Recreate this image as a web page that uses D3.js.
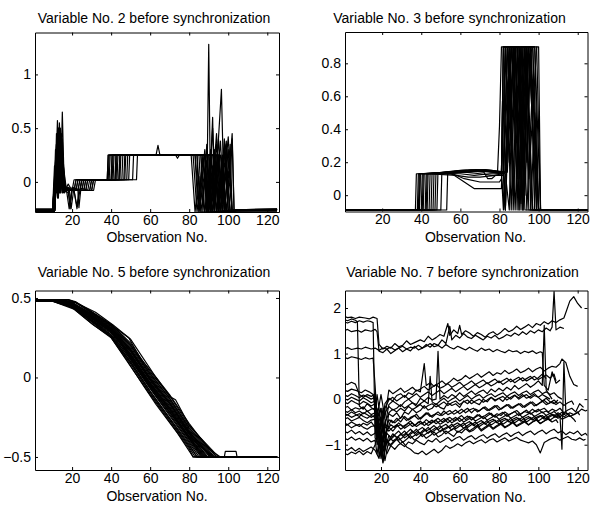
<!DOCTYPE html>
<html>
<head>
<meta charset="utf-8">
<script src="https://cdn.jsdelivr.net/npm/d3@7"></script>
<style>
  body { margin: 0; background: #fff; }
  svg text { font-family: Arial, "Liberation Sans", Helvetica, sans-serif; fill: #000; }
</style>
</head>
<body>
<div id="container"></div>
<script>
/* CONSTANTS AND GLOBALS */
const width = 590,
  height = 506;

/* DATA ([observation, value]) */
const xTicks = [20, 40, 60, 80, 100, 120];
const var2Ticks = [0, 0.5, 1];
const var3Ticks = [0, 0.2, 0.4, 0.6, 0.8];
const var5Ticks = [-0.5, 0, 0.5];
const var7Ticks = [-1, 0, 1, 2];

// variable 2 : one array per batch run
const var2Runs = [
  [[1,-0.27],[10,-0.27],[11,0.0],[12,0.35],[13,-0.05],[14,0.2],[16,-0.06],[20,-0.08],[21,0.02],[38,0.02],[38.5,0.25],[81,0.25],[83,-0.28],[85,0.05],[86,-0.28],[103,-0.27],[125,-0.26]],
  [[1,-0.27],[11,-0.27],[12.5,0.57],[13.5,-0.1],[15,0.1],[17,-0.06],[21,-0.08],[23,-0.08],[24,0.02],[38.5,0.02],[39,0.25],[82,0.25],[84,-0.28],[87,0.2],[89,-0.2],[90,1.28],[91,-0.28],[103,-0.26],[125,-0.26]],
  [[1,-0.25],[10,-0.25],[12,0.2],[13,0.45],[14,-0.1],[15,0.65],[16,-0.08],[18,-0.05],[19,-0.25],[20,-0.05],[25,-0.08],[26,0.02],[39,0.02],[39.5,0.25],[84,0.25],[85,-0.28],[88,0.1],[90,-0.28],[92,0.6],[93,-0.28],[104,-0.26],[125,-0.25]],
  [[1,-0.27],[11,-0.27],[12,0.1],[13,0.4],[14,0.0],[15,0.3],[16.5,-0.05],[18,-0.08],[21,-0.08],[22.5,-0.25],[24,-0.08],[27,-0.08],[28,0.02],[40,0.02],[40.5,0.25],[85,0.25],[86,-0.1],[88,-0.28],[91,0.3],[93,-0.2],[96.5,0.86],[98,-0.28],[104,-0.26],[125,-0.26]],
  [[1,-0.26],[10,-0.26],[11,0.15],[12,-0.1],[14,0.35],[15,-0.1],[17,-0.05],[20,-0.08],[29,-0.08],[30,0.02],[40.5,0.02],[41,0.25],[86,0.25],[88,-0.28],[90,0.0],[92,-0.28],[95,0.4],[97,-0.28],[104,-0.27],[125,-0.27]],
  [[1,-0.27],[11,-0.27],[12,0.3],[13,-0.15],[14,0.5],[15,0.0],[16,-0.1],[18,-0.02],[20,-0.08],[26,-0.08],[27,0.02],[41,0.02],[41.5,0.25],[87,0.25],[89,-0.1],[91,-0.28],[94,0.35],[96,-0.1],[98,0.4],[100,-0.28],[104,-0.26],[125,-0.26]],
  [[1,-0.27],[10.5,-0.27],[12,0.25],[13,-0.05],[14.5,0.3],[16,-0.06],[18,-0.08],[22,-0.08],[23,0.02],[42,0.02],[42.5,0.25],[88,0.25],[89,-0.28],[92,0.15],[94,-0.28],[99,0.38],[100,-0.28],[103,-0.26],[125,-0.26]],
  [[1,-0.26],[11,-0.26],[12,0.05],[13.5,0.38],[15,-0.08],[17,-0.06],[18.5,-0.25],[20,-0.06],[24,-0.08],[25,0.02],[42.5,0.02],[43,0.25],[88,0.25],[90,-0.28],[93,0.3],[95,-0.28],[97,0.2],[99,-0.28],[104,-0.26],[125,-0.26]],
  [[1,-0.27],[11,-0.27],[12.5,0.4],[13.5,0.05],[14.5,0.45],[16,-0.05],[20,-0.08],[30,-0.08],[31,0.02],[43,0.02],[43.5,0.25],[89,0.25],[90,-0.1],[92,-0.28],[95,0.25],[97,-0.2],[100,0.42],[102,-0.28],[104,-0.26],[125,-0.26]],
  [[1,-0.27],[10,-0.27],[11.5,0.2],[12.5,-0.1],[13.5,0.3],[15,-0.05],[17,-0.08],[21,-0.08],[22.5,-0.23],[23.5,-0.08],[28,-0.08],[29,0.02],[44,0.02],[44.5,0.25],[90,0.25],[91,-0.28],[94,0.1],[96,-0.28],[98,0.3],[101,-0.28],[104,-0.26],[125,-0.26]],
  [[1,-0.27],[11,-0.27],[12,0.2],[13,0.5],[14,-0.1],[15.5,0.15],[17,-0.06],[19,-0.08],[24,-0.08],[25,0.02],[44.5,0.02],[45,0.25],[91,0.25],[92,0.0],[93,-0.28],[96,0.38],[98,-0.28],[101,0.35],[102,-0.28],[104,-0.26],[125,-0.26]],
  [[1,-0.26],[11,-0.26],[12,0.1],[13,-0.1],[14,0.25],[15,-0.1],[17,-0.06],[20,-0.08],[27,-0.08],[28,0.02],[45.5,0.02],[46,0.25],[92,0.25],[94,-0.28],[97,0.15],[99,-0.28],[102,0.45],[103,-0.28],[104,-0.26],[125,-0.25]],
  [[1,-0.27],[10.5,-0.27],[12,0.35],[13,0.0],[14,0.4],[15.5,-0.06],[18,-0.08],[23,-0.08],[24,0.02],[47,0.02],[47.5,0.25],[93,0.25],[95,-0.28],[97,0.0],[99,-0.28],[103,-0.27],[125,-0.27]],
  [[1,-0.27],[11,-0.27],[12.5,0.15],[13.5,-0.05],[14.5,0.2],[16,-0.06],[18,-0.08],[22,-0.08],[23,0.02],[49,0.02],[49.5,0.25],[63,0.25],[64,0.34],[65,0.25],[94,0.25],[96,-0.28],[99,0.2],[101,-0.28],[104,-0.26],[125,-0.26]],
  [[1,-0.27],[11,-0.27],[12,0.0],[13,0.3],[14,-0.1],[15,0.2],[16.5,-0.06],[20,-0.08],[25,-0.08],[26,0.02],[51,0.02],[51.5,0.25],[73,0.25],[74,0.22],[75,0.25],[95,0.25],[97,-0.28],[100,0.3],[102,-0.28],[104,-0.26],[125,-0.26]],
  [[1,-0.26],[10,-0.26],[11.5,0.1],[12.5,-0.15],[13.5,0.2],[15,-0.1],[17,-0.06],[19,-0.08],[21,-0.08],[22,0.02],[53,0.02],[53.5,0.25],[96,0.25],[98,-0.28],[100,0.1],[102,-0.28],[104,-0.26],[125,-0.26]],
  [[1,-0.27],[11,-0.27],[12,0.2],[13.5,-0.1],[15,0.1],[16,-0.1],[18.5,-0.05],[19.5,-0.25],[21,-0.05],[23,-0.08],[30,-0.08],[31,0.02],[46.5,0.02],[47,0.25],[83,0.25],[84,-0.1],[85,-0.28],[88,0.3],[90,-0.28],[93,0.2],[95,-0.28],[103,-0.27],[125,-0.27]],
  [[1,-0.27],[11,-0.27],[12,0.45],[13,-0.05],[14,0.3],[16,-0.06],[20,-0.08],[23,-0.08],[23.5,-0.24],[24.5,-0.06],[29,-0.08],[30,0.02],[40,0.02],[40.5,0.25],[88,0.25],[89.5,-0.28],[92,0.5],[94,-0.28],[97,0.25],[99,-0.28],[104,-0.26],[125,-0.26]],
  [[1,-0.27],[11,-0.27],[12,0.15],[13,0.5],[14,0.1],[15,0.4],[16,-0.08],[18,-0.1],[19,-0.2],[20,-0.08],[26,-0.08],[27,0.02],[42,0.02],[42.5,0.25],[86,0.25],[87,-0.28],[89,0.35],[91,-0.28],[93,0.15],[95,-0.28],[98,0.3],[100,-0.28],[103,-0.26],[125,-0.26]],
  [[1,-0.27],[10.5,-0.27],[11.5,0.3],[12.5,0.0],[13.5,0.55],[14.5,-0.05],[16,-0.1],[18,-0.06],[22,-0.08],[24,-0.08],[25,0.02],[44,0.02],[44.5,0.25],[84,0.25],[86,-0.28],[89,0.2],[91,-0.28],[94,0.45],[96,-0.28],[99,0.15],[101,-0.28],[104,-0.26],[125,-0.26]],
  [[1,-0.26],[11,-0.26],[12,0.25],[13,-0.1],[14,0.35],[15.5,-0.1],[17,-0.06],[21,-0.08],[31,-0.08],[32,0.02],[48,0.02],[48.5,0.25],[90,0.25],[92,-0.28],[94,0.0],[96,-0.28],[99,0.35],[101,0.0],[102,0.4],[103,-0.28],[104,-0.26],[125,-0.26]],
  [[1,-0.27],[11,-0.27],[12.5,0.3],[13.5,-0.1],[14.5,0.4],[16,-0.06],[19,-0.08],[21,-0.08],[22,0.02],[38,0.02],[38.5,0.25],[83,0.25],[85,-0.2],[87,0.25],[89,-0.28],[91,0.1],[93,-0.28],[103,-0.27],[125,-0.26]]
];

// variable 3
const var3Runs = [
  [[1,-0.09],[37,-0.09],[37.5,0.13],[55,0.13],[65,0.15],[78,0.14],[79,0.14],[80,0.42],[81,0.9],[83,0.9],[86,-0.09],[88,0.9],[90,0.9],[93,-0.09],[125,-0.09]],
  [[1,-0.09],[38,-0.09],[38.5,0.13],[56,0.14],[66,0.15],[80,0.14],[81,0.14],[82,0.9],[84,0.9],[87,0.0],[89,0.9],[92,0.2],[94,0.9],[96,-0.09],[125,-0.09]],
  [[1,-0.09],[38.5,-0.09],[39,0.13],[55,0.13],[57,0.12],[62,0.08],[67,0.04],[80,0.04],[81,0.04],[83,0.9],[85,0.9],[88,-0.09],[91,0.9],[93,0.9],[97,-0.09],[125,-0.09]],
  [[1,-0.09],[39,-0.09],[39.5,0.13],[57,0.14],[68,0.155],[81,0.14],[82,0.9],[86,0.9],[89,0.1],[92,0.9],[95,0.9],[99,-0.09],[125,-0.09]],
  [[1,-0.09],[40,-0.09],[40.5,0.13],[56,0.13],[62,0.1],[70,0.08],[80,0.08],[81,0.1],[83,-0.09],[85,0.9],[88,0.9],[91,-0.05],[94,0.9],[96,0.9],[100,-0.09],[125,-0.09]],
  [[1,-0.09],[40.5,-0.09],[41,0.13],[58,0.145],[70,0.15],[81,0.14],[83,0.9],[84,0.9],[86,0.3],[88,0.9],[91,0.9],[94,-0.09],[97,0.7],[99,-0.09],[125,-0.09]],
  [[1,-0.09],[41,-0.09],[41.5,0.13],[58,0.14],[66,0.15],[79,0.14],[82,0.13],[84,0.9],[87,0.9],[90,-0.09],[92,0.6],[95,0.9],[98,0.9],[101,-0.09],[125,-0.09]],
  [[1,-0.09],[42,-0.09],[42.5,0.13],[60,0.14],[72,0.15],[80,0.13],[81,0.13],[82,-0.09],[84,0.5],[86,0.9],[89,0.9],[92,-0.09],[95,0.9],[97,0.4],[100,-0.09],[125,-0.09]],
  [[1,-0.09],[42.5,-0.09],[43,0.13],[58,0.12],[64,0.11],[70,0.11],[78,0.12],[82,0.12],[85,0.9],[88,0.9],[90,-0.09],[93,0.9],[96,0.9],[98,-0.09],[125,-0.09]],
  [[1,-0.09],[43,-0.09],[43.5,0.13],[60,0.15],[73,0.155],[82,0.14],[83,0.14],[86,0.9],[89,0.5],[91,0.9],[94,0.9],[97,-0.09],[125,-0.09]],
  [[1,-0.09],[44,-0.09],[44.5,0.13],[61,0.15],[75,0.15],[82,0.13],[83,-0.09],[86,0.9],[88,0.9],[91,-0.09],[93,0.9],[95,0.1],[99,0.9],[100,0.9],[101,-0.09],[125,-0.09]],
  [[1,-0.09],[45,-0.09],[45.5,0.13],[60,0.14],[70,0.145],[82,0.14],[84,0.9],[86,0.6],[88,0.9],[90,0.9],[93,0.0],[96,0.9],[98,-0.09],[125,-0.09]],
  [[1,-0.09],[46,-0.09],[46.5,0.13],[62,0.15],[74,0.15],[83,0.13],[85,-0.09],[87,0.9],[90,0.9],[92,-0.09],[95,0.9],[97,0.9],[100,-0.09],[125,-0.09]],
  [[1,-0.09],[47,-0.09],[47.5,0.13],[62,0.14],[70,0.13],[76,0.12],[82,0.12],[83,0.9],[85,0.2],[87,0.9],[89,0.9],[91,0.3],[93,0.9],[95,-0.09],[125,-0.09]],
  [[1,-0.09],[48,-0.09],[48.5,0.13],[63,0.15],[76,0.15],[83,0.14],[86,0.9],[88,0.9],[90,0.1],[92,0.9],[94,0.9],[96,-0.09],[98,0.5],[100,-0.09],[125,-0.09]],
  [[1,-0.09],[50,-0.09],[50.5,0.13],[63,0.14],[72,0.15],[82,0.14],[84,0.14],[87,0.9],[89,0.9],[92,-0.09],[94,0.8],[97,0.9],[99,0.9],[101,-0.09],[125,-0.09]],
  [[1,-0.09],[53,-0.09],[53.5,0.13],[60,0.13],[67,0.12],[75,0.13],[82,0.13],[83,-0.09],[85,0.9],[87,0.9],[89,-0.09],[91,0.9],[93,0.4],[95,0.9],[97,0.9],[99,-0.09],[125,-0.09]],
  [[1,-0.09],[39,-0.09],[39.5,0.13],[55,0.14],[65,0.15],[72,0.14],[74,0.1],[76,0.1],[78,0.12],[81,0.13],[82,0.9],[85,0.9],[87,-0.09],[90,0.9],[92,0.9],[94,0.2],[96,0.9],[98,0.9],[100,-0.09],[125,-0.09]]
];

// variable 5
const var5Runs = [
  [[1,0.48],[10,0.48],[20,0.44],[30,0.34],[40,0.25],[50,0.07],[60,-0.11],[70,-0.28],[80,-0.45],[82,-0.5],[125,-0.5]],
  [[1,0.48],[11,0.48],[20,0.445],[30,0.35],[40,0.255],[50,0.085],[60,-0.1],[70,-0.27],[80,-0.44],[83,-0.5],[125,-0.5]],
  [[1,0.49],[12,0.49],[20,0.45],[30,0.355],[40,0.265],[50,0.1],[60,-0.085],[70,-0.255],[80,-0.42],[84,-0.5],[125,-0.5]],
  [[1,0.48],[10,0.48],[20,0.44],[30,0.36],[40,0.28],[50,0.11],[60,-0.07],[70,-0.24],[80,-0.41],[85,-0.5],[125,-0.5]],
  [[1,0.48],[13,0.48],[20,0.455],[30,0.36],[40,0.27],[50,0.115],[60,-0.065],[70,-0.23],[80,-0.4],[86,-0.5],[125,-0.5]],
  [[1,0.49],[12,0.49],[20,0.455],[30,0.37],[40,0.29],[50,0.13],[60,-0.05],[70,-0.22],[80,-0.39],[86.5,-0.5],[125,-0.5]],
  [[1,0.48],[14,0.48],[20,0.46],[30,0.375],[40,0.285],[50,0.135],[60,-0.045],[70,-0.205],[80,-0.38],[87.5,-0.5],[125,-0.5]],
  [[1,0.48],[12,0.48],[20,0.458],[30,0.38],[40,0.3],[50,0.14],[60,-0.035],[70,-0.195],[80,-0.375],[88,-0.5],[125,-0.5]],
  [[1,0.49],[15,0.49],[20,0.465],[30,0.38],[40,0.295],[50,0.15],[60,-0.03],[70,-0.19],[80,-0.36],[89,-0.5],[125,-0.5]],
  [[1,0.48],[13,0.48],[20,0.462],[30,0.385],[40,0.3],[50,0.16],[60,-0.02],[70,-0.18],[80,-0.355],[89.5,-0.5],[125,-0.5]],
  [[1,0.48],[16,0.48],[20,0.468],[30,0.39],[40,0.305],[50,0.165],[60,-0.015],[70,-0.17],[80,-0.35],[90.5,-0.5],[125,-0.5]],
  [[1,0.49],[14,0.49],[20,0.467],[30,0.39],[40,0.31],[50,0.175],[60,-0.005],[70,-0.165],[80,-0.34],[91,-0.5],[125,-0.5]],
  [[1,0.48],[17,0.48],[20,0.47],[30,0.4],[40,0.315],[50,0.18],[60,0.0],[70,-0.155],[80,-0.34],[92,-0.5],[125,-0.5]],
  [[1,0.48],[15,0.48],[20,0.47],[30,0.4],[40,0.32],[50,0.19],[60,0.01],[70,-0.145],[80,-0.33],[92.5,-0.5],[125,-0.5]],
  [[1,0.49],[18,0.49],[22,0.47],[30,0.405],[40,0.325],[50,0.2],[60,0.02],[70,-0.135],[80,-0.32],[93,-0.5],[125,-0.5]],
  [[1,0.48],[16,0.48],[22,0.47],[30,0.41],[40,0.33],[49,0.25],[55,0.12],[63,0.0],[70,-0.12],[73,-0.14],[80,-0.3],[94,-0.5],[125,-0.5]],
  [[1,0.49],[18,0.49],[22,0.475],[30,0.415],[40,0.335],[50,0.215],[60,0.035],[70,-0.115],[80,-0.305],[95,-0.5],[125,-0.5]],
  [[1,0.49],[12,0.49],[22,0.47],[32,0.41],[41,0.33],[50,0.24],[63,0.0],[70,-0.11],[80,-0.29],[90,-0.45],[96,-0.5],[125,-0.5]],
  [[1,0.48],[11,0.48],[20,0.45],[30,0.37],[40,0.3],[50,0.12],[60,-0.06],[70,-0.22],[80,-0.37],[92,-0.5],[98,-0.5],[98.5,-0.465],[104,-0.465],[104.5,-0.5],[125,-0.5]],
  [[1,0.48],[10,0.48],[21,0.43],[31,0.33],[39.5,0.26],[48,0.11],[57,-0.06],[63,-0.17],[74,-0.35],[82,-0.5],[125,-0.5]],
  [[1,0.48],[13,0.48],[20,0.452],[30,0.362],[40,0.29],[50,0.125],[60,-0.055],[70,-0.215],[80,-0.385],[87,-0.5],[125,-0.5]],
  [[1,0.49],[16,0.49],[21,0.465],[30,0.395],[40,0.31],[50,0.17],[60,-0.01],[70,-0.16],[80,-0.345],[91.5,-0.5],[125,-0.5]],
  [[1,0.48],[11,0.48],[20,0.448],[30,0.352],[40,0.26],[50,0.095],[60,-0.09],[70,-0.26],[80,-0.43],[84,-0.5],[125,-0.5]],
  [[1,0.49],[17,0.49],[22,0.472],[30,0.41],[40,0.328],[50,0.205],[60,0.025],[70,-0.13],[80,-0.315],[94,-0.5],[125,-0.5]],
  [[1,0.48],[14,0.48],[20,0.46],[30,0.378],[40,0.298],[50,0.145],[60,-0.04],[70,-0.2],[80,-0.37],[88.5,-0.5],[125,-0.5]]
];

// variable 7
const var7Runs = [
  [[1,1.82],[3,1.79],[5,1.8],[7,1.77],[9,1.8],[12,1.78],[14,1.76],[16,1.8],[18,1.77],[19,1.2],[21,1.1],[23,1.16],[25,1.12],[27,1.22],[29,1.15],[31,1.18],[33,1.28],[35,1.2],[37,1.24],[40,1.3],[42,1.26],[44,1.38],[46,1.3],[48,1.35],[50,1.42],[52,1.38],[54,1.66],[55,1.4],[57,1.52],[59,1.44],[60,1.62],[61,1.42],[63,1.5],[65,1.45],[67,1.38],[69,1.46],[71,1.42],[73,1.36],[75,1.44],[77,1.48],[79,1.41],[81,1.47],[83,1.55],[85,1.48],[87,1.52],[89,1.6],[91,1.53],[93,1.58],[95,1.64],[97,1.57],[99,1.66],[101,1.62],[103,1.7],[105,1.65],[107,1.72],[109,1.68],[111,1.74],[113,1.78],[114,1.9],[116,2.15],[118,2.25],[120,2.1],[122,2.0]],
  [[1,1.5],[3,1.53],[5,1.48],[8,1.51],[10,1.47],[12,1.52],[15,1.49],[17,1.53],[18,1.48],[19,1.05],[21,1.02],[23,1.1],[25,1.0],[27,1.06],[29,1.12],[31,1.04],[33,1.1],[35,1.06],[37,1.16],[39,1.08],[41,1.12],[43,1.2],[45,1.14],[47,1.22],[49,1.18],[51,1.3],[53,1.22],[55,1.6],[56,1.3],[58,1.4],[60,1.34],[62,1.44],[64,1.36],[66,1.33],[68,1.4],[70,1.35],[72,1.3],[74,1.38],[76,1.34],[78,1.4],[80,1.32],[82,1.36],[84,1.42],[86,1.38],[88,1.45],[90,1.4],[92,1.48],[94,1.42],[96,1.5],[98,1.45],[100,1.52],[102,1.48],[104,1.56],[106,1.5],[107,1.58],[108,2.36],[109,1.52],[111,1.58],[113,1.55]],
  [[1,1.1],[3,1.13],[5,1.09],[8,1.12],[10,1.1],[12,1.14],[15,1.1],[17,1.12],[19,1.07],[21,1.12],[23,1.1],[25,1.14],[27,1.08],[29,1.12],[31,1.16],[33,1.1],[35,1.14],[37,1.12],[39,1.18],[41,1.12],[43,1.16],[45,1.22],[47,1.15],[49,1.18],[51,1.12],[53,1.2],[55,1.14],[57,1.1],[59,1.16],[61,1.12],[63,1.08],[65,1.14],[67,1.09],[69,1.05],[71,1.12],[73,1.07],[75,1.1],[77,1.04],[79,1.09],[81,1.05],[83,1.02],[85,1.08],[87,1.04],[89,1.06],[91,1.0],[93,1.05],[95,1.02],[97,1.06],[99,1.0],[101,1.04],[102,1.02],[103,0.3],[105,0.2],[107,0.6],[109,0.35],[111,0.42]],
  [[1,1.75],[3,1.72],[5,1.76],[7,1.73],[8,1.7],[9,-0.15],[11,-0.22],[13,-0.1],[15,-0.18],[17,-0.25],[19,-0.6],[20,-1.2],[22,-0.5],[24,-0.32],[26,-0.38],[28,-0.3],[30,-0.42],[32,-0.28],[34,-0.33],[36,-0.22],[38,-0.3],[40,-0.25],[42,-0.14],[44,-0.24],[46,-0.2],[48,-0.1],[50,-0.18],[52,-0.22],[54,-0.08],[56,-0.14],[58,-0.1],[60,-0.18],[62,-0.04],[64,-0.1],[66,-0.02],[68,-0.08],[70,-0.12],[72,0.0],[74,-0.06],[76,0.04],[78,-0.02],[80,0.02],[82,-0.05],[84,0.06],[86,0.0],[88,0.08],[90,0.03],[92,0.1],[94,0.02],[96,0.06],[98,0.12],[100,0.04],[102,0.1],[104,0.05],[106,0.0]],
  [[1,1.7],[3,1.67],[5,1.71],[7,1.68],[9,1.72],[11,1.69],[13,1.72],[15,1.7],[16,1.68],[17,-0.85],[19,-1.0],[21,-1.38],[23,-0.9],[25,-1.02],[27,-0.92],[29,-0.84],[31,-0.95],[33,-0.88],[35,-0.8],[37,-0.9],[39,-0.84],[41,-0.76],[43,-0.86],[45,-0.8],[47,-0.72],[49,-0.83],[51,-0.78],[53,-0.7],[55,-0.76],[57,-0.82],[59,-0.7],[61,-0.74],[63,-0.65],[65,-0.72],[67,-0.68],[69,-0.6],[71,-0.7],[73,-0.64],[75,-0.58],[77,-0.66],[79,-0.6],[81,-0.55],[83,-0.63],[85,-0.58],[87,-0.52],[89,-0.6],[91,-0.55],[93,-0.5],[95,-0.57],[97,-0.5],[99,-0.46],[101,-0.54],[103,-0.48],[105,-0.44],[107,-0.5]],
  [[1,0.92],[3,0.89],[5,0.93],[8,0.9],[10,0.87],[12,0.91],[14,0.88],[16,0.9],[17,0.3],[18,-0.4],[20,-0.2],[22,-0.8],[24,-0.45],[26,-0.52],[28,-0.42],[30,-0.5],[32,-0.38],[34,-0.46],[36,-0.4],[38,-0.33],[40,-0.44],[42,-0.36],[44,-0.3],[46,-0.4],[48,-0.32],[50,-0.36],[52,-0.26],[54,-0.34],[56,-0.3],[58,-0.24],[60,-0.32],[62,-0.26],[64,-0.2],[66,-0.3],[68,-0.22],[70,-0.26],[72,-0.18],[74,-0.25],[76,-0.2],[78,-0.14],[80,-0.24],[82,-0.18],[84,-0.12],[86,-0.2],[88,-0.15],[90,-0.1],[92,-0.18],[94,-0.12],[96,-0.06],[98,-0.15],[100,-0.1],[102,-0.04],[104,-0.12],[106,-0.08],[108,-0.02],[110,-0.1]],
  [[1,0.35],[3,0.32],[5,0.37],[7,0.33],[9,0.1],[11,0.04],[13,0.1],[15,0.06],[17,0.12],[18,-0.3],[20,-0.9],[22,-0.1],[24,0.02],[26,-0.04],[28,0.08],[30,0.12],[32,0.04],[34,0.14],[36,0.1],[38,0.2],[40,0.16],[42,0.78],[43,0.3],[45,0.36],[47,0.28],[49,0.34],[51,0.4],[53,0.32],[55,0.38],[57,0.46],[59,0.4],[61,0.44],[63,0.52],[65,0.45],[67,0.5],[69,0.56],[71,0.48],[73,0.54],[75,0.6],[77,0.52],[79,0.58],[81,0.55],[83,0.63],[85,0.56],[87,0.6],[89,0.66],[91,0.58],[93,0.62],[95,0.68],[97,0.6],[99,0.66],[101,0.7],[103,0.62],[105,0.68],[107,0.72],[109,0.7],[111,0.78],[112,0.88],[114,0.8],[116,0.5],[118,0.32],[120,0.28]],
  [[1,0.2],[3,0.17],[5,0.22],[8,0.18],[10,0.14],[12,0.2],[14,0.16],[16,0.1],[18,-0.5],[20,-1.3],[22,-0.6],[24,-0.12],[26,-0.04],[28,-0.1],[30,-0.16],[32,-0.06],[34,0.0],[36,-0.08],[38,-0.12],[40,0.02],[42,-0.04],[44,0.04],[46,-0.02],[48,0.0],[49,1.05],[50,0.0],[52,0.08],[54,0.02],[56,0.1],[58,0.05],[60,0.14],[62,0.06],[64,0.12],[66,0.18],[68,0.1],[70,0.16],[72,0.2],[74,0.12],[76,0.22],[78,0.16],[80,0.24],[82,0.18],[84,0.26],[86,0.2],[88,0.3],[90,0.22],[92,0.28],[94,0.34],[96,0.26],[98,0.32],[100,0.4],[102,0.3],[103,1.62],[104,0.2],[107,0.0]],
  [[1,-0.05],[3,-0.1],[5,-0.03],[7,-0.08],[9,-0.12],[11,-0.05],[13,-0.09],[15,-0.15],[17,-0.1],[18,-0.3],[19,-0.9],[21,-0.2],[23,-0.7],[25,-0.56],[27,-0.62],[29,-0.52],[31,-0.6],[33,-0.55],[35,-0.48],[37,-0.58],[39,-0.5],[41,-0.55],[43,-0.45],[45,-0.52],[47,-0.48],[49,-0.42],[51,-0.5],[53,-0.44],[55,-0.4],[57,-0.47],[59,-0.42],[61,-0.36],[63,-0.45],[65,-0.38],[67,-0.42],[69,-0.34],[71,-0.4],[73,-0.36],[75,-0.3],[77,-0.38],[79,-0.32],[81,-0.36],[83,-0.28],[85,-0.34],[87,-0.3],[89,-0.25],[91,-0.33],[93,-0.27],[95,-0.3],[97,-0.22],[99,-0.28],[101,-0.24],[103,-0.2],[105,-0.28],[107,-0.22],[109,-0.26],[111,-0.2],[113,-0.3],[115,-0.24],[117,-0.2],[119,-0.28],[121,-0.1],[123,-0.18]],
  [[1,-0.2],[3,-0.16],[5,-0.24],[7,-0.19],[9,-0.22],[11,-0.17],[13,-0.27],[15,-0.22],[17,-0.2],[18,-0.8],[20,-0.4],[22,-1.1],[24,-0.8],[26,-0.92],[28,-0.86],[30,-0.76],[32,-0.85],[34,-0.78],[36,-0.7],[38,-0.8],[40,-0.74],[42,-0.66],[44,-0.75],[46,-0.68],[48,-0.62],[50,-0.72],[52,-0.65],[54,-0.6],[56,-0.68],[58,-0.6],[60,-0.55],[62,-0.64],[64,-0.58],[66,-0.52],[68,-0.6],[70,-0.55],[72,-0.5],[74,-0.58],[76,-0.5],[78,-0.46],[80,-0.55],[82,-0.48],[84,-0.44],[86,-0.52],[88,-0.46],[90,-0.42],[92,-0.5],[94,-0.44],[96,-0.4],[98,-0.47],[100,-0.4],[102,-0.36],[104,-0.44],[106,-0.38],[108,-0.34],[110,-0.42],[112,-0.36],[114,-0.4]],
  [[1,-0.3],[3,-0.35],[5,-0.28],[7,-0.33],[9,-0.38],[11,-0.3],[13,-0.34],[15,-0.4],[17,-0.35],[18,-0.2],[20,-0.6],[22,-0.3],[24,-0.16],[26,-0.24],[28,-0.2],[30,-0.12],[32,-0.2],[34,-0.14],[36,-0.08],[38,-0.16],[40,-0.1],[42,-0.04],[44,-0.1],[45,0.5],[46,-0.06],[48,-0.12],[50,-0.04],[52,0.02],[54,-0.06],[56,0.0],[58,0.04],[60,-0.04],[62,0.02],[64,0.08],[66,0.0],[68,0.06],[70,0.1],[72,0.02],[74,0.08],[76,0.12],[78,0.05],[80,0.1],[82,0.14],[84,0.06],[86,0.12],[88,0.16],[90,0.08],[92,0.14],[94,0.18],[96,0.1],[98,0.16],[100,0.2],[102,0.12],[104,0.16],[106,0.1],[108,0.14],[110,0.05],[112,0.0]],
  [[1,-0.45],[3,-0.41],[5,-0.48],[7,-0.44],[9,-0.4],[11,-0.47],[13,-0.52],[15,-0.46],[17,-0.44],[18,-0.9],[20,-0.5],[21,-1.4],[23,-0.7],[25,-0.46],[27,-0.52],[29,-0.44],[31,-0.38],[33,-0.47],[35,-0.4],[37,-0.36],[39,-0.44],[41,-0.38],[43,-0.3],[45,-0.38],[47,-0.34],[49,-0.28],[51,-0.36],[53,-0.3],[55,-0.25],[57,-0.33],[59,-0.28],[61,-0.22],[63,-0.3],[65,-0.24],[67,-0.2],[69,-0.28],[71,-0.22],[73,-0.17],[75,-0.25],[77,-0.2],[79,-0.14],[81,-0.22],[83,-0.16],[85,-0.12],[87,-0.2],[89,-0.14],[91,-0.1],[93,-0.18],[95,-0.12],[97,-0.06],[99,-0.14],[101,-0.08],[103,-0.03],[105,-0.1],[107,-0.05],[109,-0.12],[111,-0.06],[113,-0.14],[115,-0.08],[117,-0.04],[118,-0.12]],
  [[1,-0.6],[3,-0.56],[5,-0.63],[7,-0.58],[9,-0.55],[11,-0.62],[13,-0.66],[15,-0.6],[17,-0.58],[18,-0.3],[20,-1.0],[22,-0.8],[24,-1.02],[26,-0.95],[28,-0.88],[30,-0.98],[32,-1.04],[34,-0.94],[36,-0.98],[38,-0.9],[40,-0.96],[42,-1.0],[44,-0.9],[46,-0.94],[48,-0.86],[50,-0.95],[52,-0.9],[54,-0.84],[56,-0.92],[58,-0.86],[60,-0.82],[62,-0.9],[64,-0.84],[66,-0.8],[68,-0.88],[70,-0.82],[72,-0.78],[74,-0.86],[76,-0.8],[78,-0.76],[80,-0.84],[82,-0.78],[84,-0.74],[86,-0.82],[88,-0.76],[90,-0.72],[92,-0.8],[94,-0.74],[96,-0.7],[98,-0.78],[100,-0.72],[102,-0.68],[104,-0.76],[106,-0.7],[108,-0.66],[110,-0.74],[112,-0.7],[114,-0.78],[116,-0.72],[118,-0.76],[120,-0.7],[122,-0.8],[124,-0.75],[125,-0.8]],
  [[1,-1.08],[3,-1.12],[5,-1.06],[7,-1.14],[9,-1.08],[11,-1.15],[13,-1.1],[15,-1.05],[17,-1.12],[19,-1.3],[21,-0.8],[23,-1.2],[25,-1.02],[27,-1.1],[29,-1.0],[31,-0.94],[33,-1.05],[35,-1.1],[37,-1.18],[39,-1.2],[41,-1.14],[43,-1.22],[45,-1.16],[47,-1.1],[49,-1.18],[51,-1.12],[53,-1.02],[55,-1.08],[57,-1.04],[59,-0.98],[61,-1.03],[63,-0.96],[65,-0.92],[67,-0.98],[69,-0.93],[71,-0.89],[73,-0.96],[75,-0.9],[77,-0.87],[79,-0.94],[81,-0.89],[83,-0.85],[85,-0.92],[87,-0.88],[89,-0.84],[91,-0.9],[93,-0.93],[95,-0.96],[97,-0.92],[99,-1.0],[101,-1.18],[103,-0.95],[105,-0.9],[107,-0.86],[109,-0.84],[111,-0.9],[113,-0.86],[115,-0.82],[117,-0.88],[119,-0.9],[121,-0.85],[123,-0.9],[124,-0.88]],
  [[1,-1.18],[3,-1.22],[5,-1.16],[7,-1.2],[9,-1.14],[11,-1.22],[13,-1.15],[15,-1.2],[17,-1.0],[19,-0.6],[21,-1.1],[23,-0.75],[25,-0.84],[27,-0.78],[29,-0.7],[31,-0.8],[33,-0.74],[35,-0.66],[37,-0.75],[39,-0.68],[41,-0.62],[43,-0.7],[45,-0.65],[47,-0.58],[49,-0.67],[51,-0.6],[53,-0.55],[55,-0.63],[57,-0.57],[59,-0.52],[61,-0.6],[63,-0.54],[65,-0.49],[67,-0.58],[69,-0.52],[71,-0.47],[73,-0.55],[75,-0.48],[77,-0.44],[79,-0.52],[81,-0.46],[83,-0.42],[85,-0.5],[87,-0.44],[89,-0.4],[91,-0.48],[93,-0.42],[95,-0.38],[97,-0.46],[99,-0.4],[101,-0.36],[103,-0.44],[105,-0.38],[107,-0.33],[109,-0.4],[111,-0.36],[112,-1.1],[113,0.82],[114,-0.3],[116,-0.38],[118,-0.34],[120,-0.3],[122,-0.22],[124,-0.26],[125,-0.24]],
  [[1,0.02],[3,-0.02],[5,0.04],[7,0.0],[9,-0.04],[11,0.03],[13,-0.02],[15,-0.08],[17,-0.04],[18,-0.6],[20,-0.2],[22,-0.9],[24,-0.3],[26,-0.22],[28,-0.28],[30,-0.2],[32,-0.26],[34,-0.16],[36,-0.23],[38,-0.18],[40,-0.12],[42,-0.2],[44,-0.14],[46,-0.1],[48,-0.17],[50,-0.12],[52,-0.06],[54,-0.14],[56,-0.08],[58,-0.04],[60,-0.12],[62,-0.06],[64,-0.02],[66,-0.1],[68,-0.04],[70,0.0],[72,-0.07],[74,-0.02],[76,0.04],[78,-0.04],[80,0.02],[82,0.06],[84,-0.02],[86,0.04],[88,0.09],[90,0.0],[92,0.06],[94,0.1],[96,0.02],[98,0.08],[100,0.04],[102,-0.04],[104,0.02],[106,-0.06],[108,-0.1],[110,-0.02]],
  [[1,-0.25],[3,-0.29],[5,-0.23],[7,-0.3],[9,-0.26],[11,-0.32],[13,-0.26],[15,-0.34],[17,-0.3],[18,0.1],[20,-0.5],[22,-0.2],[24,-0.02],[26,0.04],[28,-0.04],[30,0.02],[32,0.08],[34,0.0],[36,0.06],[38,0.12],[40,0.04],[42,0.1],[44,0.16],[46,0.08],[48,0.14],[50,0.2],[52,0.12],[54,0.18],[56,0.24],[58,0.16],[60,0.22],[62,0.28],[64,0.2],[66,0.26],[68,0.32],[70,0.25],[72,0.3],[74,0.36],[76,0.29],[78,0.34],[80,0.4],[82,0.32],[84,0.38],[86,0.44],[88,0.36],[90,0.42],[92,0.47],[94,0.4],[96,0.45],[98,0.5],[100,0.43],[102,0.48],[104,0.53],[106,0.46],[108,0.55],[109,0.4]],
  [[1,-0.7],[3,-0.74],[5,-0.68],[7,-0.76],[9,-0.71],[11,-0.78],[13,-0.72],[15,-0.8],[17,-0.75],[18,-0.5],[20,-1.2],[22,-0.6],[24,-0.7],[26,-0.62],[28,-0.56],[30,-0.66],[32,-0.6],[34,-0.52],[36,-0.6],[38,-0.55],[40,-0.48],[42,-0.58],[44,-0.52],[46,-0.46],[48,-0.54],[50,-0.48],[52,-0.42],[54,-0.52],[56,-0.45],[58,-0.4],[60,-0.49],[62,-0.43],[64,-0.37],[66,-0.46],[68,-0.4],[70,-0.34],[72,-0.43],[74,-0.37],[76,-0.31],[78,-0.4],[80,-0.34],[82,-0.29],[84,-0.38],[86,-0.32],[88,-0.27],[90,-0.36],[92,-0.3],[94,-0.24],[96,-0.33],[98,-0.27],[100,-0.22],[102,-0.3],[104,-0.26],[106,-0.32],[108,-0.27],[110,-0.35],[112,-0.29],[114,-0.36],[116,-0.3],[118,-0.34],[120,-0.28],[121,-0.35]],
  [[1,0.1],[3,0.06],[5,0.12],[7,0.08],[9,0.03],[11,0.09],[13,0.05],[15,0.0],[17,0.04],[18,-0.4],[20,0.1],[22,-0.4],[24,0.2],[26,0.12],[28,0.18],[30,0.24],[32,0.15],[34,0.2],[36,0.26],[38,0.18],[40,0.22],[42,0.28],[44,0.2],[46,0.26],[48,0.32],[50,0.24],[52,0.28],[54,0.34],[56,0.26],[58,0.31],[60,0.37],[62,0.29],[64,0.34],[66,0.4],[68,0.32],[70,0.37],[72,0.42],[74,0.34],[76,0.39],[78,0.44],[80,0.36],[82,0.41],[84,0.46],[86,0.38],[88,0.43],[90,0.48],[92,0.4],[94,0.45],[96,0.5],[98,0.42],[100,0.47],[102,0.55],[104,0.45]],
  [[1,-0.85],[3,-0.89],[5,-0.83],[7,-0.9],[9,-0.86],[11,-0.92],[13,-0.86],[15,-0.94],[17,-0.9],[18,-1.2],[20,-0.7],[22,-1.35],[24,-0.9],[26,-0.76],[28,-0.84],[30,-0.78],[32,-0.7],[34,-0.8],[36,-0.74],[38,-0.66],[40,-0.76],[42,-0.7],[44,-0.62],[46,-0.72],[48,-0.66],[50,-0.58],[52,-0.68],[54,-0.62],[56,-0.55],[58,-0.65],[60,-0.59],[62,-0.52],[64,-0.62],[66,-0.56],[68,-0.5],[70,-0.6],[72,-0.54],[74,-0.47],[76,-0.57],[78,-0.51],[80,-0.45],[82,-0.55],[84,-0.49],[86,-0.42],[88,-0.52],[90,-0.46],[92,-0.4],[94,-0.5],[96,-0.44],[98,-0.38],[100,-0.48],[102,-0.42],[104,-0.36],[106,-0.46],[108,-0.4],[110,-0.35],[112,-0.44],[114,-0.4],[116,-0.36],[118,-0.44],[119,-0.5]],
  [[1,-0.52],[3,-0.56],[5,-0.5],[7,-0.55],[9,-0.6],[11,-0.53],[13,-0.57],[15,-0.5],[17,-0.62],[18,-1.0],[20,-0.8],[22,-0.55],[24,-0.62],[26,-0.7],[28,-0.6],[30,-0.56],[32,-0.64],[34,-0.58],[36,-0.52],[38,-0.6],[40,-0.54],[42,-0.5],[44,-0.58],[46,-0.52],[48,-0.47],[50,-0.55],[52,-0.5],[54,-0.44],[56,-0.52],[58,-0.47],[60,-0.42],[62,-0.5],[64,-0.45],[66,-0.4],[68,-0.48],[70,-0.43],[72,-0.38],[74,-0.46],[76,-0.41],[78,-0.36],[80,-0.44],[82,-0.39],[84,-0.34],[86,-0.42],[88,-0.37],[90,-0.32],[92,-0.4],[94,-0.35],[96,-0.3],[98,-0.38],[100,-0.33],[102,-0.28],[104,-0.36],[106,-0.31],[108,-0.38],[110,-0.3],[112,-0.36],[114,-0.3],[116,-0.34]],
  [[1,-0.38],[3,-0.34],[5,-0.4],[7,-0.36],[9,-0.32],[11,-0.38],[13,-0.42],[15,-0.36],[17,-0.4],[18,-0.7],[19,-1.25],[21,-0.9],[23,-0.95],[25,-0.88],[27,-0.8],[29,-0.9],[31,-0.84],[33,-0.76],[35,-0.86],[37,-0.8],[39,-0.72],[41,-0.82],[43,-0.76],[45,-0.7],[47,-0.79],[49,-0.73],[51,-0.67],[53,-0.76],[55,-0.7],[57,-0.64],[59,-0.73],[61,-0.67],[63,-0.61],[65,-0.7],[67,-0.64],[69,-0.58],[71,-0.67],[73,-0.61],[75,-0.56],[77,-0.64],[79,-0.58],[81,-0.53],[83,-0.61],[85,-0.56],[87,-0.5],[89,-0.58],[91,-0.53],[93,-0.48],[95,-0.56],[97,-0.5],[99,-0.45],[101,-0.53],[103,-0.48],[105,-0.42],[107,-0.5],[109,-0.45],[110,-0.52]]
];

/* LAYOUT */
const panels = [
  { title: "Variable No. 2 before synchronization", runs: var2Runs, yTicks: var2Ticks,
    xDomain: [1, 126], yDomain: [-0.28, 1.39],
    left: 35, right: 279, top: 32.5, bottom: 212, titleX: 154, titleY: 22.5, labelX: 157, labelY: 241.5 },
  { title: "Variable No. 3 before synchronization", runs: var3Runs, yTicks: var3Ticks,
    xDomain: [1, 125], yDomain: [-0.099, 0.99],
    left: 345, right: 587.5, top: 32, bottom: 211.5, titleX: 449.5, titleY: 22.5, labelX: 475.5, labelY: 241.5 },
  { title: "Variable No. 5 before synchronization", runs: var5Runs, yTicks: var5Ticks,
    xDomain: [1, 126], yDomain: [-0.582, 0.547],
    left: 35, right: 279, top: 290.5, bottom: 470, titleX: 154, titleY: 276.5, labelX: 157, labelY: 501 },
  { title: "Variable No. 7 before synchronization", runs: var7Runs, yTicks: var7Ticks,
    xDomain: [1.7, 125], yDomain: [-1.555, 2.384],
    left: 345, right: 587.5, top: 290.5, bottom: 470, titleX: 462.5, titleY: 277, labelX: 475.5, labelY: 501.5 }
];

const fontFamily = 'Arial, "Liberation Sans", Helvetica, sans-serif';
const fontSize = 14;

// + CREATE SVG ELEMENT
const svg = d3.select("#container")
  .append("svg")
  .attr("width", width)
  .attr("height", height);

panels.forEach((p, i) => drawPanel(p, i));

function drawPanel(p, i) {
  // + SCALES
  const xScale = d3.scaleLinear().domain(p.xDomain).range([p.left, p.right]);
  const yScale = d3.scaleLinear().domain(p.yDomain).range([p.bottom, p.top]);

  const g = svg.append("g").attr("class", "panel");

  g.append("clipPath")
    .attr("id", "clip" + i)
    .append("rect")
    .attr("x", p.left)
    .attr("y", p.top)
    .attr("width", p.right - p.left)
    .attr("height", p.bottom - p.top);

  // + DRAW LINES
  const lineGen = d3.line()
    .x(d => xScale(d[0]))
    .y(d => yScale(d[1]));

  g.append("g")
    .attr("clip-path", `url(#clip${i})`)
    .selectAll("path")
    .data(p.runs)
    .join("path")
    .attr("d", d => lineGen(d))
    .attr("fill", "none")
    .attr("stroke", "#000")
    .attr("stroke-width", 1.2)
    .attr("stroke-linejoin", "round");

  // + AXES (ticks point inward, box on all four sides)
  const styleAxis = sel => {
    sel.attr("font-size", fontSize).attr("font-family", fontFamily);
    sel.selectAll(".domain").attr("stroke", "#000");
    sel.selectAll(".tick line").attr("stroke", "#000");
    sel.selectAll(".tick text").attr("fill", "#000");
  };

  g.append("g")
    .attr("transform", `translate(0, ${p.bottom})`)
    .call(d3.axisBottom(xScale).tickValues(xTicks).tickSizeInner(-3).tickSizeOuter(0).tickPadding(3))
    .call(styleAxis);

  g.append("g")
    .attr("transform", `translate(0, ${p.top})`)
    .call(d3.axisTop(xScale).tickValues(xTicks).tickSizeInner(-3).tickSizeOuter(0).tickFormat(""))
    .call(styleAxis);

  g.append("g")
    .attr("transform", `translate(${p.left}, 0)`)
    .call(d3.axisLeft(yScale).tickValues(p.yTicks).tickSizeInner(-3).tickSizeOuter(0).tickPadding(4).tickFormat(d3.format("")))
    .call(styleAxis);

  g.append("g")
    .attr("transform", `translate(${p.right}, 0)`)
    .call(d3.axisRight(yScale).tickValues(p.yTicks).tickSizeInner(-3).tickSizeOuter(0).tickFormat(""))
    .call(styleAxis);

  // + TITLE AND LABEL
  g.append("text")
    .attr("x", p.titleX)
    .attr("y", p.titleY)
    .attr("text-anchor", "middle")
    .attr("font-size", fontSize)
    .text(p.title);

  g.append("text")
    .attr("x", p.labelX)
    .attr("y", p.labelY)
    .attr("text-anchor", "middle")
    .attr("font-size", fontSize)
    .text("Observation No.");
}
</script>
</body>
</html>
